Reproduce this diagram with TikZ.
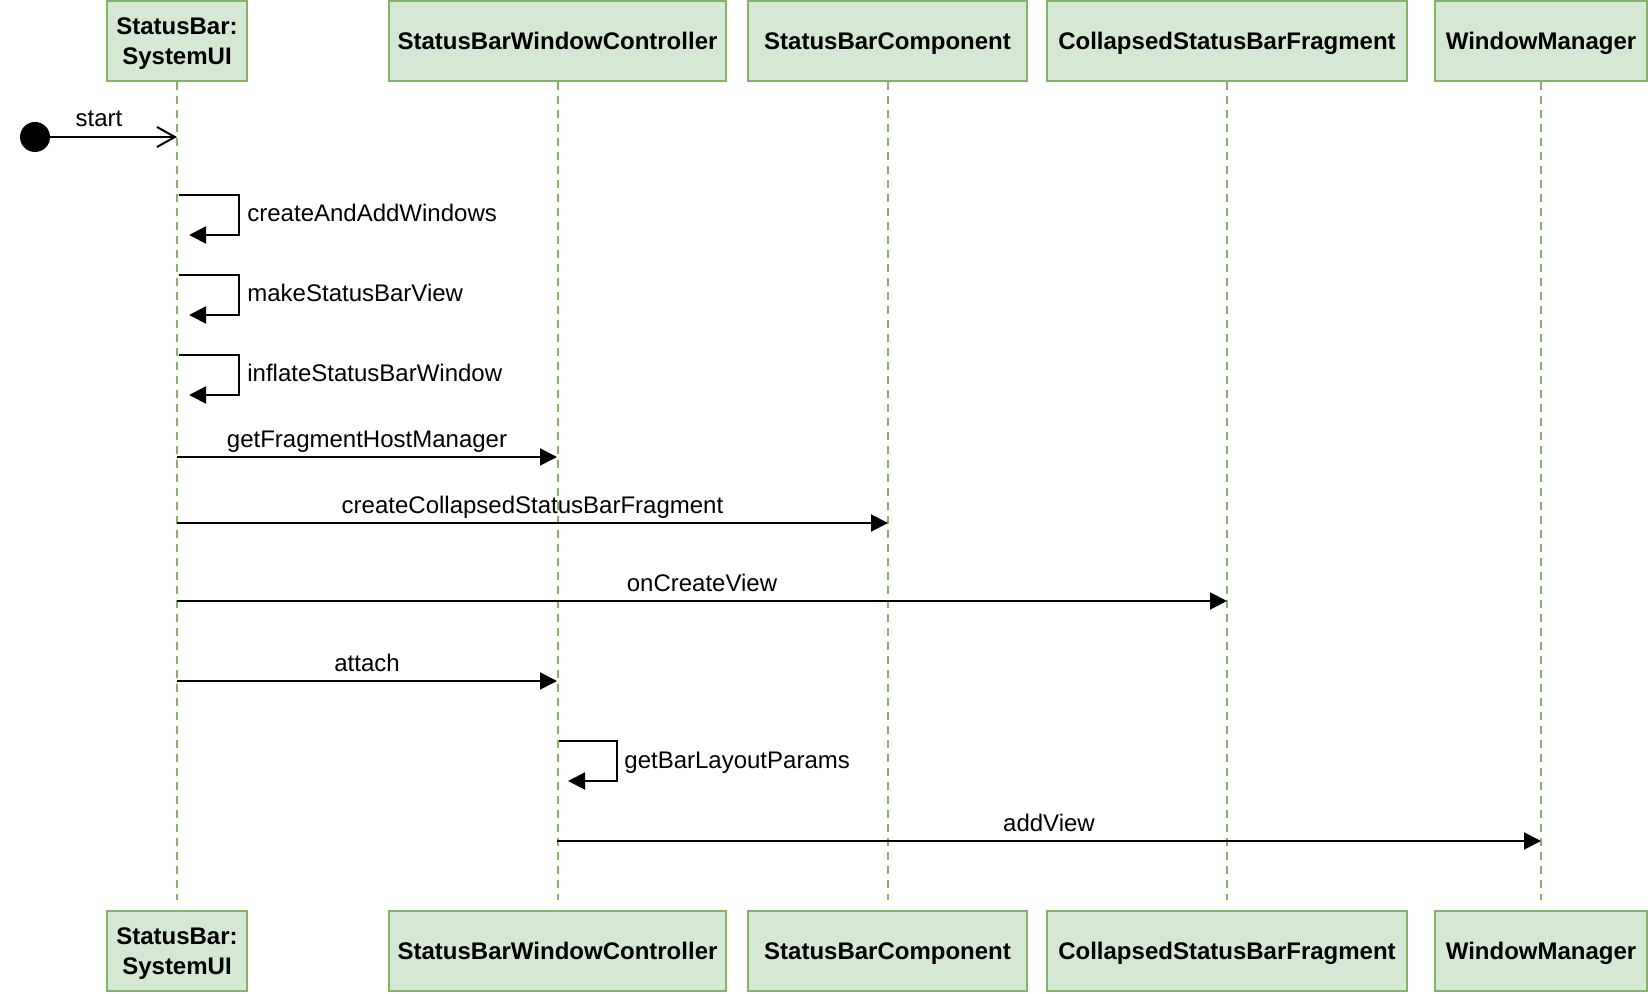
\documentclass[tikz,border=0pt]{standalone}
\usepackage{fontspec}
\setmainfont{Liberation Sans}
\usetikzlibrary{arrows.meta,calc}
\definecolor{boxfill}{HTML}{D5E8D4}
\definecolor{boxline}{HTML}{82B366}
\begin{document}
\begin{tikzpicture}[x=0.5pt,y=-0.5pt,
  head/.style={draw=boxline,fill=boxfill,line width=1.2pt,font=\fontsize{12}{14.7}\selectfont\bfseries,align=center,minimum height=40pt,inner sep=0pt},
  onehead/.style={head,text height=8.6pt,text depth=0pt},
  life/.style={draw=boxline,line width=1pt,dash pattern=on 4pt off 3pt},
  msg/.style={draw=black,line width=1pt,-{Triangle[length=8.5pt,width=8.5pt]}},
  lbl/.style={font=\fontsize{12}{14}\selectfont,anchor=base,inner sep=0pt},
  slbl/.style={lbl,anchor=base west}]
\useasboundingbox (0,0) rectangle (1648,994);
% header boxes
\node[head,minimum width=70pt] (t1) at (177,41) {\rule{0pt}{11.1pt}StatusBar:\\SystemUI};
\node[onehead,minimum width=168.5pt] (t2) at (557.5,41) {StatusBarWindowController};
\node[onehead,minimum width=139.5pt] (t3) at (887.5,41) {StatusBarComponent};
\node[onehead,minimum width=180pt] (t4) at (1227,41) {CollapsedStatusBarFragment};
\node[onehead,minimum width=106pt] (t5) at (1541,41) {WindowManager};
\node[head,minimum width=70pt] (b1) at (177,951) {\rule{0pt}{11.1pt}StatusBar:\\SystemUI};
\node[onehead,minimum width=168.5pt] (b2) at (557.5,951) {StatusBarWindowController};
\node[onehead,minimum width=139.5pt] (b3) at (887.5,951) {StatusBarComponent};
\node[onehead,minimum width=180pt] (b4) at (1227,951) {CollapsedStatusBarFragment};
\node[onehead,minimum width=106pt] (b5) at (1541,951) {WindowManager};
% lifelines
\coordinate (le) at (0,900);
\foreach \i in {1,...,5} {\draw[life] (t\i.south) -- (t\i.south |- le);}
% start
\node[circle,fill=black,minimum size=15pt,inner sep=0pt] (st) at (35,137) {};
\coordinate (s1) at (177,137);
\draw[line width=1pt,-{Straight Barb[length=9pt,width=10pt,line width=1pt]}] (st) -- (s1);
\node[lbl] (lstart) at (99,127) {start};
% self messages on SystemUI
\coordinate (c1a) at (179,195); \coordinate (c1b) at (189,235);
\draw[msg] (c1a) -- ++(60,0) |- (c1b);
\node[slbl] (l1) at (247,222) {createAndAddWindows};
\coordinate (c2a) at (179,275); \coordinate (c2b) at (189,315);
\draw[msg] (c2a) -- ++(60,0) |- (c2b);
\node[slbl] (l2) at (247,302) {makeStatusBarView};
\coordinate (c3a) at (179,355); \coordinate (c3b) at (189,395);
\draw[msg] (c3a) -- ++(60,0) |- (c3b);
\node[slbl] (l3) at (247,382) {inflateStatusBarWindow};
% messages
\coordinate (m1a) at (177,457); \coordinate (m1b) at (557,457);
\draw[msg] (m1a) -- (m1b);
\node[lbl] (l4) at ($(m1a)!0.5!(m1b)+(0,-10)$) {getFragmentHostManager};
\coordinate (m2a) at (177,523); \coordinate (m2b) at (888,523);
\draw[msg] (m2a) -- (m2b);
\node[lbl] (l5) at ($(m2a)!0.5!(m2b)+(0,-10)$) {createCollapsedStatusBarFragment};
\coordinate (m3a) at (177,601); \coordinate (m3b) at (1227,601);
\draw[msg] (m3a) -- (m3b);
\node[lbl] (l6) at ($(m3a)!0.5!(m3b)+(0,-10)$) {onCreateView};
\coordinate (m4a) at (177,681); \coordinate (m4b) at (557,681);
\draw[msg] (m4a) -- (m4b);
\node[lbl] (l7) at ($(m4a)!0.5!(m4b)+(0,-10)$) {attach};
\coordinate (c4a) at (559,741); \coordinate (c4b) at (568,781);
\draw[msg] (c4a) -- ++(58,0) |- (c4b);
\node[slbl] (l8) at (624,768) {getBarLayoutParams};
\coordinate (m5a) at (557,841); \coordinate (m5b) at (1541,841);
\draw[msg] (m5a) -- (m5b);
\node[lbl] (l9) at ($(m5a)!0.5!(m5b)+(0,-10)$) {addView};
\end{tikzpicture}
\end{document}
